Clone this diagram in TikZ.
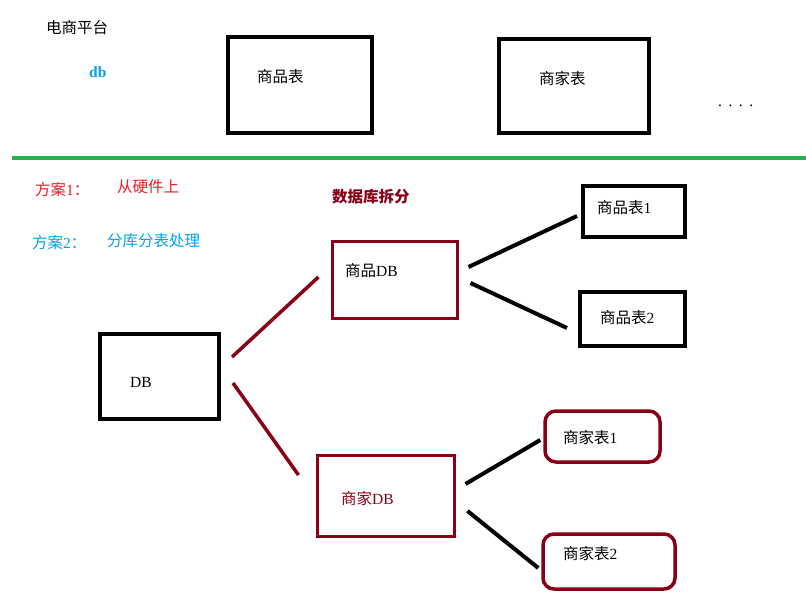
\documentclass[tikz,border=0pt]{standalone}
\usepackage{fontspec}
\setmainfont{Liberation Serif}
\newfontfamily\cjk{Noto Sans CJK SC}
\definecolor{dred}{HTML}{880015}
\definecolor{pred}{HTML}{ED1C24}
\definecolor{pblue}{HTML}{00A2E8}
\definecolor{pgreen}{HTML}{22B14C}
\begin{document}
\begin{tikzpicture}[x=1pt,y=-1pt,
  blackbox/.style={draw=black,line width=4pt,rectangle,inner sep=0pt},
  redbox/.style={draw=dred,line width=3pt,rectangle,inner sep=0pt},
  roundbox/.style={draw=dred,line width=3.5pt,rectangle,rounded corners=11pt,inner sep=0pt},
  txt/.style={anchor=west,inner sep=0pt,font=\fontsize{15.5}{18}\selectfont},
  blackline/.style={draw=black,line width=4pt},
  redline/.style={draw=dred,line width=3.5pt}]
\useasboundingbox (0,0) rectangle (806,613);
% top row
\node[txt] (title) at (46,28) {\cjk 电商平台};
\node[txt,text=pblue,font=\fontsize{15.5}{18}\selectfont\bfseries] (dblabel) at (89,72) {db};
\node[blackbox,minimum width=144pt,minimum height=96pt] (goods) at (300,85) {};
\node[txt] (goodst) at (257,77) {\cjk 商品表};
\node[blackbox,minimum width=150pt,minimum height=94pt] (shop) at (574,86) {};
\node[txt] (shopt) at (539,79) {\cjk 商家表};
\node[txt] (dots) at (718,106) {.\hspace{6.5pt}.\hspace{6.5pt}.\hspace{6.5pt}.};
% divider
\coordinate (gl) at (12,158);
\coordinate (gr) at (806,158);
\draw[pgreen,line width=3.5pt] (gl) -- (gr);
% plans
\node[txt,text=pred] (p1) at (35,190) {{\cjk 方案}1{\cjk ：}};
\node[txt,text=pred] (p1t) at (117,187) {\cjk 从硬件上};
\node[txt,text=pblue] (p2) at (32,243) {{\cjk 方案}2{\cjk ：}};
\node[txt,text=pblue] (p2t) at (107,241) {\cjk 分库分表处理};
\node[txt,text=dred,font=\fontsize{15.5}{18}\selectfont\bfseries] (split) at (332,197) {\cjk 数据库拆分};
% tree
\node[blackbox,minimum width=119pt,minimum height=85pt] (db) at (159.5,376.5) {};
\node[txt] (dbt) at (130,382) {DB};
\node[redbox,minimum width=125pt,minimum height=77pt] (spdb) at (395,280) {};
\node[txt] (spdbt) at (345,271) {{\cjk 商品}DB};
\node[redbox,minimum width=137pt,minimum height=81pt] (sjdb) at (386,496) {};
\node[txt,text=dred] (sjdbt) at (341,499) {{\cjk 商家}DB};
\node[blackbox,minimum width=102pt,minimum height=51pt] (spb1) at (634,211.5) {};
\node[txt] (spb1t) at (597,208) {{\cjk 商品表}1};
\node[blackbox,minimum width=105pt,minimum height=54pt] (spb2) at (632.5,319) {};
\node[txt] (spb2t) at (600,318) {{\cjk 商品表}2};
\node[roundbox,minimum width=115pt,minimum height=51pt] (sjb1) at (602.5,436.5) {};
\node[txt] (sjb1t) at (563,438) {{\cjk 商家表}1};
\node[roundbox,minimum width=132pt,minimum height=55pt] (sjb2) at (609,561.5) {};
\node[txt] (sjb2t) at (563,554) {{\cjk 商家表}2};
% connectors
\draw[redline] ([shift={(11,-19.5)}]db.east) -- ([shift={(-12.5,-3)}]spdb.west);
\draw[redline] ([shift={(12,6.5)}]db.east) -- ([shift={(-17.5,-21)}]sjdb.west);
\draw[blackline] ([shift={(9.5,-13)}]spdb.east) -- ([shift={(-4,4.5)}]spb1.west);
\draw[blackline] ([shift={(11.5,3)}]spdb.east) -- ([shift={(-11,9)}]spb2.west);
\draw[blackline] ([shift={(9.5,-12)}]sjdb.east) -- ([shift={(-3,3.5)}]sjb1.west);
\draw[blackline] ([shift={(11.5,15)}]sjdb.east) -- ([shift={(-3,6.5)}]sjb2.west);
\end{tikzpicture}
\end{document}
